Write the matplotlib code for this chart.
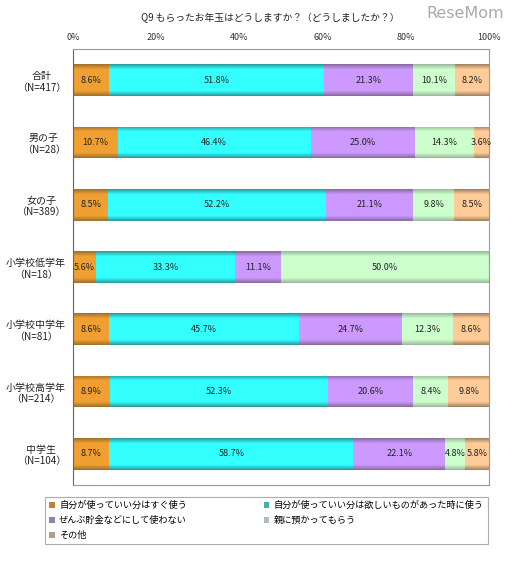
import numpy as np
import matplotlib
matplotlib.use('Agg')
import matplotlib.pyplot as plt
from matplotlib.patches import Patch

plt.rcParams['font.family'] = ['Noto Sans CJK JP', 'DejaVu Sans']

title = 'Q9 もらったお年玉はどうしますか？（どうしましたか？）'
groups = ['合計\n（N=417）', '男の子\n（N=28）', '女の子\n（N=389）', '小学校低学年\n（N=18）',
          '小学校中学年\n（N=81）', '小学校高学年\n（N=214）', '中学生\n（N=104）']
series = ['自分が使っていい分はすぐ使う', '自分が使っていい分は欲しいものがあった時に使う',
          'ぜんぶ貯金などにして使わない', '親に預かってもらう', 'その他']
spend_now = [8.6, 10.7, 8.5, 5.6, 8.6, 8.9, 8.7]
spend_want = [51.8, 46.4, 52.2, 33.3, 45.7, 52.3, 58.7]
save_all = [21.3, 25.0, 21.1, 11.1, 24.7, 20.6, 22.1]
parents = [10.1, 14.3, 9.8, 50.0, 12.3, 8.4, 4.8]
other = [8.2, 3.6, 8.5, 0.0, 8.6, 9.8, 5.8]
values = [spend_now, spend_want, save_all, parents, other]

light = ['#f0a032', '#33ffff', '#cc99ff', '#ccffcc', '#ffcc99']
dark = ['#a0702a', '#2a9a9a', '#8a6a9a', '#9ab89a', '#a08060']
legend_cols = ['#c08040', '#40b0b0', '#9080b0', '#b0c0b0', '#b0a090']


def gradient(c_light, c_dark, n=64):
    t = np.linspace(0, 1, n)
    d = np.clip(1 - np.minimum(t, 1 - t) / 0.16, 0, 1)
    a = np.array(matplotlib.colors.to_rgb(c_light))
    b = np.array(matplotlib.colors.to_rgb(c_dark))
    img = a[None, :] * (1 - d[:, None]) + b[None, :] * d[:, None]
    return img[:, None, :]


fig = plt.figure(figsize=(5.12, 5.75), dpi=100)
ax = fig.add_axes([73 / 512, 1 - 485 / 575, 416 / 512, 436 / 575])

y = np.arange(len(groups))
left = np.zeros(len(groups))
for i, vals in enumerate(values):
    vals = np.array(vals)
    bars = ax.barh(y, vals, left=left, height=0.51, color='none', edgecolor='none')
    for bar, v in zip(bars, vals):
        if v <= 0:
            continue
        x0, y0 = bar.get_x(), bar.get_y()
        w, h = bar.get_width(), bar.get_height()
        im = ax.imshow(gradient(light[i], dark[i]), extent=[x0, x0 + w, y0, y0 + h],
                       aspect='auto', origin='lower', interpolation='bilinear', zorder=2)
        im.set_clip_path(bar)
        ax.text(x0 + w / 2, y0 + h / 2, f'{v:.1f}%', ha='center', va='center',
                fontsize=6.5, color='#222222', zorder=3)
    left += vals

ax.set_xlim(0, 100)
ax.set_ylim(len(groups) - 0.5, -0.5)
ax.set_xticks([0, 20, 40, 60, 80, 100])
ax.set_xticklabels(['0%', '20%', '40%', '60%', '80%', '100%'])
ax.xaxis.tick_top()
ax.tick_params(axis='x', length=0, pad=5, labelsize=6.5, colors='#333333')
ax.set_yticks(y)
ax.set_yticklabels(groups, fontsize=7.2, color='#222222', multialignment='center')
ax.tick_params(axis='y', length=0, pad=5)
for s in ['top', 'right', 'bottom']:
    ax.spines[s].set_color('#999999')
ax.spines['left'].set_color('#666666')

fig.text(270 / 512, 1 - 18 / 575, title, ha='center', va='center', fontsize=7, color='#222222')
fig.text(465 / 512, 1 - 13 / 575, 'ReseMom', ha='center', va='center', fontsize=11.5,
         color='#aaaaaa', family='DejaVu Sans')

handles = [Patch(facecolor=c, edgecolor='none') for c in legend_cols]
order = [0, 2, 4, 1, 3]
leg = fig.legend([handles[k] for k in order], [series[k] for k in order], ncol=2,
                 loc='upper left', bbox_to_anchor=(45 / 512, 1 - 546 / 575, 443 / 512, 49 / 575),
                 mode='expand', fontsize=6.6, frameon=True, fancybox=False, edgecolor='#999999',
                 handlelength=0.6, handleheight=0.6, handletextpad=0.5, labelspacing=0.62,
                 borderaxespad=0, borderpad=0.45, columnspacing=1.0)
leg.get_frame().set_linewidth(0.8)

fig.savefig('out.png', dpi=100)
